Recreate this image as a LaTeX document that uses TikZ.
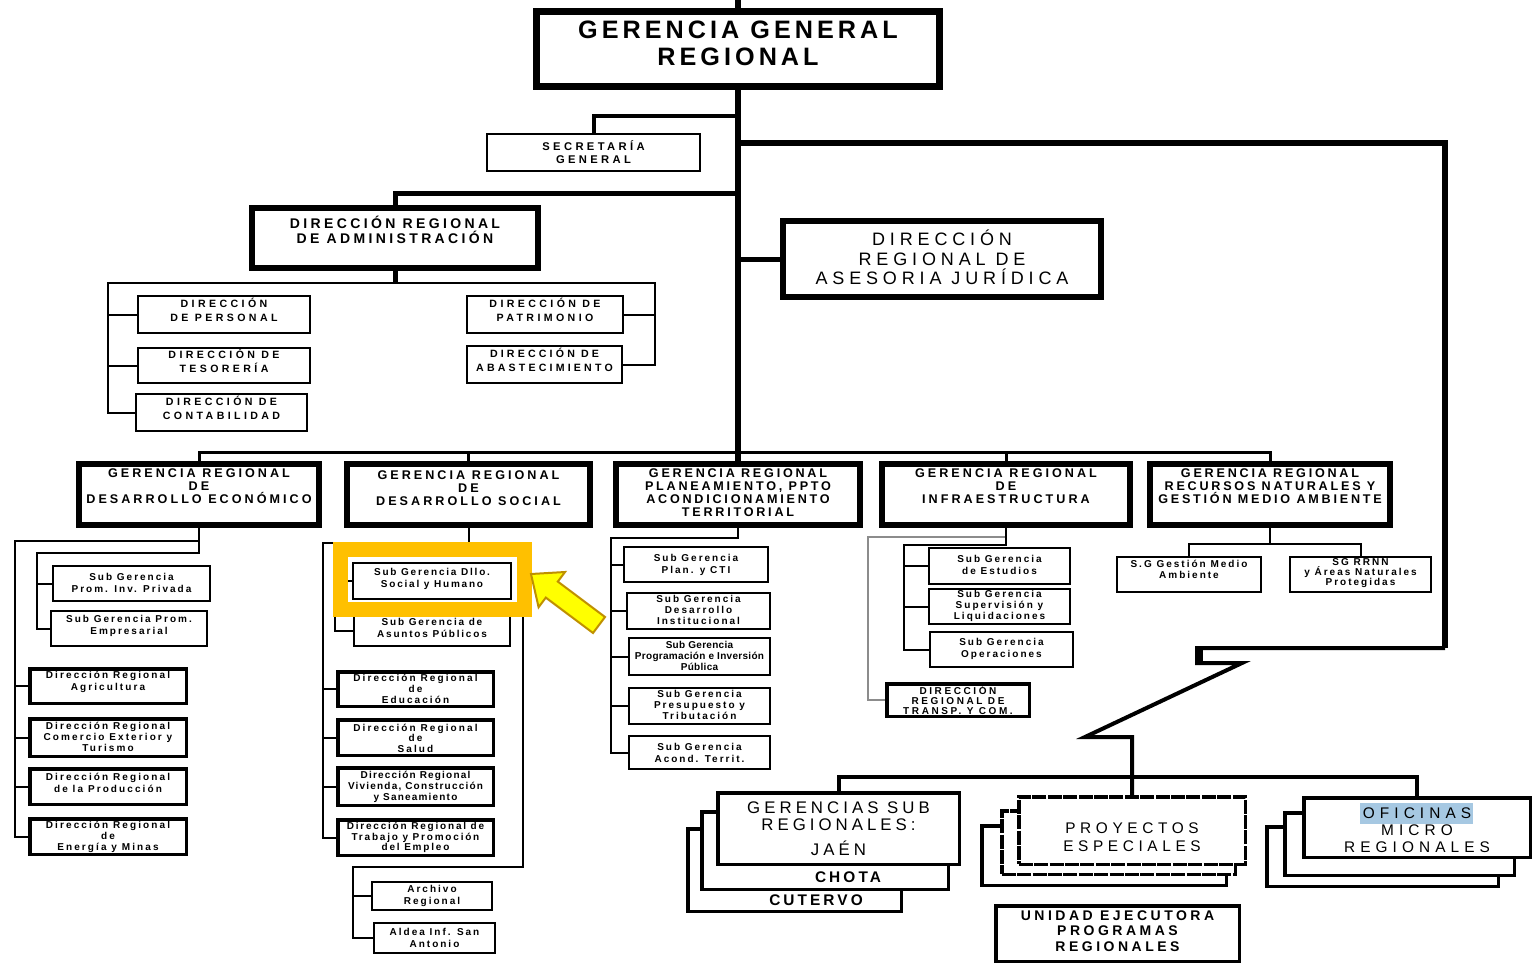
\documentclass[tikz,border=0pt]{standalone}
\usepackage{fontspec}
\setmainfont{Liberation Sans}
\definecolor{hlorange}{HTML}{FFC000}
\definecolor{arrowfill}{HTML}{FFFF00}
\definecolor{arrowline}{HTML}{BF9000}
\definecolor{hlblue}{HTML}{A6C8E2}
\newcommand\FS[3]{\fontsize{#1}{#2}\selectfont\addfontfeatures{LetterSpace=#3}}
\def\bxlw{0pt}
\newcommand\mybox[9]{%
  \pgfmathsetmacro\bxcx{(#3+#5)/2}%
  \pgfmathsetmacro\bxcy{(#4+#6)/2}%
  \node[#1, minimum width={(#5-#3)*0.5pt-\bxlw}, minimum height={(#6-#4)*0.5pt-\bxlw}] (#2) at (\bxcx,\bxcy) {};%
  \node[font={#8}, align=center, inner sep=0pt] (#2-t) at (\bxcx,#7) {#9};%
}
\tikzset{
  bxlw/.code={\def\bxlw{#1}},
  gb/.style={draw, line width=3.5pt, fill=white, inner sep=0pt, bxlw=3.5pt},
  tb/.style={draw, line width=3pt, fill=white, inner sep=0pt, bxlw=3pt},
  mb/.style={draw, line width=1.75pt, fill=white, inner sep=0pt, bxlw=1.75pt},
  nb/.style={draw, line width=1pt, fill=white, inner sep=0pt, bxlw=1pt},
  db/.style={mb, dash pattern=on 7pt off 0.7pt},
  ln1/.style={line width=1pt},
  ln15/.style={line width=1.5pt},
  ln2/.style={line width=2pt},
  ln25/.style={line width=2.5pt},
  ln3/.style={line width=3pt},
}
\begin{document}
\begin{tikzpicture}[x=0.5pt,y=-0.5pt]
\fill[white] (0,0) rectangle (1532,963);
\useasboundingbox (0,0) rectangle (1532,963);

% ---------- top level ----------
\mybox{gb}{ggr}{533}{8}{943}{90}{43.5}{\bfseries\FS{12.6}{13.5}{16}}{GERENCIA GENERAL\\REGIONAL}
\mybox{nb}{sec}{486}{133}{701}{172}{152.5}{\bfseries\FS{5.6}{6.5}{30}}{SECRETARÍA\\GENERAL}
\mybox{tb}{adm}{249}{205}{541}{271}{229.5}{\bfseries\FS{7}{7.5}{24}}{DIRECCIÓN REGIONAL\\DE ADMINISTRACIÓN}
\mybox{tb}{ase}{780}{218}{1104}{300}{257.5}{\FS{9}{9.75}{27}}{DIRECCIÓN\\REGIONAL DE\\ASESORIA JURÍDICA}

% ---------- administration ----------
\mybox{nb}{per}{137}{295}{311}{334}{310}{\bfseries\FS{5.3}{7}{32}}{DIRECCIÓN\\DE PERSONAL}
\mybox{nb}{tes}{137}{347}{311}{384}{361}{\bfseries\FS{5.3}{7}{32}}{DIRECCIÓN DE\\TESORERÍA}
\mybox{nb}{con}{135}{393}{308}{432}{408}{\bfseries\FS{5.3}{7}{32}}{DIRECCIÓN DE\\CONTABILIDAD}
\mybox{nb}{pat}{466}{295}{624}{334}{310}{\bfseries\FS{5.3}{7}{32}}{DIRECCIÓN DE\\PATRIMONIO}
\mybox{nb}{aba}{466}{345}{623}{384}{360}{\bfseries\FS{5.3}{7}{30}}{DIRECCIÓN DE\\ABASTECIMIENTO}

% ---------- gerencias ----------
\mybox{tb}{gecon}{76}{461}{322}{528}{486}{\bfseries\FS{6.3}{6.5}{24}}{GERENCIA REGIONAL\\DE\\DESARROLLO ECONÓMICO}
\mybox{tb}{gsoc}{344}{461}{593}{528}{488}{\bfseries\FS{6.3}{6.5}{24}}{GERENCIA REGIONAL\\DE\\DESARROLLO SOCIAL}
\mybox{tb}{gplan}{613}{461}{863}{528}{492.5}{\bfseries\FS{6.3}{6.5}{22}}{GERENCIA REGIONAL\\PLANEAMIENTO, PPTO\\ACONDICIONAMIENTO\\TERRITORIAL}
\mybox{tb}{ginf}{879}{461}{1133}{528}{486}{\bfseries\FS{6.3}{6.5}{24}}{GERENCIA REGIONAL\\DE\\INFRAESTRUCTURA}
\mybox{tb}{grrnn}{1147}{461}{1393}{528}{486}{\bfseries\FS{6.3}{6.5}{22}}{GERENCIA REGIONAL\\RECURSOS NATURALES Y\\GESTIÓN MEDIO AMBIENTE}

% ---------- economic ----------
\mybox{nb}{sg1}{52}{565}{211}{602}{583}{\bfseries\FS{5}{5.6}{20}}{Sub Gerencia\\Prom. Inv. Privada}
\mybox{nb}{sg2}{50}{610}{208}{647}{626}{\bfseries\FS{5}{5.6}{20}}{Sub Gerencia Prom.\\Empresarial}
\mybox{mb}{dra}{28}{667}{188}{705}{682}{\bfseries\FS{5}{5.8}{21}}{Dirección Regional\\Agricultura}
\mybox{mb}{drc}{28}{717}{188}{758}{737}{\bfseries\FS{5}{5.4}{21}}{Dirección Regional\\Comercio Exterior y\\Turismo}
\mybox{mb}{drp}{28}{767}{188}{806}{783}{\bfseries\FS{5}{5.8}{21}}{Dirección Regional\\de la Producción}
\mybox{mb}{dre}{28}{817}{188}{856}{837}{\bfseries\FS{5}{5.4}{21}}{Dirección Regional\\de\\Energía y Minas}

% ---------- social ----------
\mybox{nb}{ss1}{352}{562}{512}{600}{579}{\bfseries\FS{5}{6.3}{18}}{Sub Gerencia Dllo.\\Social y Humano}
\mybox{nb}{ss2}{353}{614}{511}{647}{628}{\bfseries\FS{5}{6}{18}}{Sub Gerencia de\\Asuntos Públicos}
\mybox{mb}{sd1}{336}{670}{495}{708}{689}{\bfseries\FS{5}{5.4}{21}}{Dirección Regional\\de\\Educación}
\mybox{mb}{sd2}{336}{718}{495}{757}{738}{\bfseries\FS{5}{5.3}{21}}{Dirección Regional\\de\\Salud}
\mybox{mb}{sd3}{336}{766}{495}{807}{787}{\bfseries\FS{5}{5.6}{12}}{Dirección Regional\\Vivienda, Construcción\\y Saneamiento}
\mybox{mb}{sd4}{336}{818}{495}{857}{837.5}{\bfseries\FS{5}{5.3}{18}}{Dirección Regional de\\Trabajo y Promoción\\del Empleo}
\mybox{nb}{sa1}{371}{881}{493}{911}{896}{\bfseries\FS{5}{5.6}{20}}{Archivo\\Regional}
\mybox{nb}{sa2}{373}{922}{496}{954}{938}{\bfseries\FS{5}{5.6}{20}}{Aldea Inf. San\\Antonio}

% ---------- planning ----------
\mybox{nb}{pp1}{623}{546}{769}{583}{565}{\bfseries\FS{5}{6}{20}}{Sub Gerencia\\Plan. y CTI}
\mybox{nb}{pp2}{626}{592}{771}{630}{610}{\bfseries\FS{5}{5.5}{20}}{Sub Gerencia\\Desarrollo\\Institucional}
\mybox{nb}{pp3}{628}{637}{771}{676}{656}{\bfseries\FS{5}{5.3}{3}}{Sub Gerencia\\Programación e Inversión\\Pública}
\mybox{nb}{pp4}{628}{687}{771}{725}{705}{\bfseries\FS{5}{5.5}{20}}{Sub Gerencia\\Presupuesto y\\Tributación}
\mybox{nb}{pp5}{628}{735}{771}{770}{753}{\bfseries\FS{5}{6}{20}}{Sub Gerencia\\Acond. Territ.}

% ---------- infrastructure ----------
\mybox{nb}{ie1}{928}{547}{1071}{585}{565}{\bfseries\FS{5}{5.6}{20}}{Sub Gerencia\\de Estudios}
\mybox{nb}{ie2}{928}{588}{1071}{625}{606}{\bfseries\FS{5}{5.5}{20}}{Sub Gerencia\\Supervisión y\\Liquidaciones}
\mybox{nb}{ie3}{929}{631}{1074}{668}{649}{\bfseries\FS{5}{6}{20}}{Sub Gerencia\\Operaciones}
\mybox{mb}{itr}{885}{682}{1031}{718}{700}{\bfseries\FS{5}{5.1}{26}}{DIRECCIÓN\\REGIONAL DE\\TRANSP. Y COM.}

% ---------- natural resources ----------
\mybox{nb}{rr1}{1116}{556}{1262}{593}{569}{\bfseries\FS{5}{5.6}{20}}{S.G Gestión Medio\\Ambiente}
\mybox{nb}{rr2}{1289}{556}{1432}{593}{573}{\bfseries\FS{5}{5.2}{20}}{SG RRNN\\y Áreas Naturales\\Protegidas}

% ---------- bottom stacks ----------
\mybox{mb}{gsr3}{686}{827}{903}{913}{900}{\bfseries\FS{7.7}{8}{20}}{\hspace*{21.5pt}CUTERVO}
\mybox{mb}{gsr2}{700}{810}{950}{891}{877}{\bfseries\FS{7.7}{8}{20}}{\hspace*{23pt}CHOTA}
\mybox{mb}{gsr1}{716}{791}{961}{866}{829}{\FS{8.4}{8.5}{24}}{GERENCIAS SUB\\REGIONALES:\\[4pt]JAÉN}

\mybox{mb}{pe3}{980}{824}{1228}{887}{856}{}{}
\mybox{db}{pe2}{1000}{809}{1237}{876}{843}{}{}
\mybox{db}{pe1}{1017}{795}{1247}{866}{837}{\FS{7.7}{9}{30}}{PROYECTOS\\ESPECIALES}

\mybox{mb}{of3}{1265}{825}{1500}{888}{856}{}{}
\mybox{mb}{of2}{1283}{811}{1516}{877}{844}{}{}
\mybox{mb}{of1}{1302}{796}{1532}{859}{828}{}{}
\fill[hlblue] (1360,803) rectangle (1473,824);
\node[font={\FS{7.7}{8.5}{33}}, align=center, inner sep=0pt] (of1-text) at (1417,830.5) {OFICINAS\\MICRO\\REGIONALES};

\mybox{mb}{uep}{994}{904}{1241}{963}{931}{\bfseries\FS{7}{7.8}{25}}{UNIDAD EJECUTORA\\PROGRAMAS\\REGIONALES}

% ---------- connectors: top ----------
\coordinate (top) at (738,0);
\draw[ln3] (top) -- (ggr.north);
\draw[ln3] (ggr.south) -- (gplan.north);
\coordinate (tr1) at (738,116);
\draw[ln2] (sec.north) |- (tr1);
\coordinate (tr2) at (738,143);
\coordinate (zr) at (1445,648);
\draw[ln3] (tr2) -| (zr);
\draw[ln2] (zr) -- (1197,648) -- (1197,663) -- (1242,663) -- (1085,737) -- (1132,737) -- (pe1.north);
\draw[line width=4pt] (1199,648) -- (1199,662);
\coordinate (tr3) at (738,193);
\draw[ln25] (adm.north) |- (tr3);
\coordinate (tr4) at (738,259);
\draw[ln25] (tr4) -- (ase.west);

% administration
\coordinate (ab) at (395,283);
\coordinate (al) at (108,283);
\coordinate (ar) at (655,283);
\draw[ln25] (adm.south) -- (ab);
\draw[ln1] (per.west) -| (al) -- (ar) |- (pat.east);
\draw[ln1] (tes.west) -| (al);
\draw[ln1] (con.west) -| (al);
\draw[ln1] (aba.east) -| (ar);

% gerencias bus
\coordinate (gbus) at (738,452);
\draw[ln15] (gecon.north) |- (gbus) -| (grrnn.north);
\draw[ln15] (gsoc.north) -- (gsoc.north |- gbus);
\draw[ln15] (ginf.north) -- (ginf.north |- gbus);

% economic
\coordinate (e1) at (199,541);
\coordinate (e0) at (15,541);
\coordinate (e2) at (199,553);
\coordinate (e3) at (37,553);
\draw[ln1] (gecon.south) -- (e2) -- (e3) |- (sg2.west);
\draw[ln1] (sg1.west) -| (e3);
\draw[ln1] (e1) -- (e0) |- (dre.west);
\draw[ln1] (dra.west) -| (e0);
\draw[ln1] (drc.west) -| (e0);
\draw[ln1] (drp.west) -| (e0);

% social
\coordinate (s1) at (468.5,543);
\coordinate (s0) at (323,543);
\coordinate (sR) at (523,543);
\coordinate (s2) at (468.5,551);
\coordinate (s3) at (335,551);
\coordinate (s5) at (523,867);
\coordinate (s6) at (353,867);
\draw[ln1] (gsoc.south) -- (s2) -- (s3) |- (ss2.west);
\draw[ln1] (ss1.west) -| (s3);
\draw[ln1] (sd4.west) -| (s0) -- (sR) -- (s5) -- (s6) |- (sa2.west);
\draw[ln1] (sd1.west) -| (s0);
\draw[ln1] (sd2.west) -| (s0);
\draw[ln1] (sd3.west) -| (s0);
\draw[ln1] (sa1.west) -| (s6);

% planning
\coordinate (p1) at (738,538);
\coordinate (p0) at (611,538);
\draw[ln1] (gplan.south) -- (p1) -- (p0) |- (pp5.west);
\draw[ln1] (pp1.west) -| (p0);
\draw[ln1] (pp2.west) -| (p0);
\draw[ln1] (pp3.west) -| (p0);
\draw[ln1] (pp4.west) -| (p0);

% infrastructure
\coordinate (i1) at (1006,537);
\coordinate (i0) at (868,537);
\coordinate (i2) at (1006,545);
\coordinate (i3) at (904,545);
\draw[ln1, black!45] (i1) -- (i0) |- (itr.west);
\draw[ln1] (ginf.south) -- (i2) -- (i3) |- (ie3.west);
\draw[ln1] (ie1.west) -| (i3);
\draw[ln1] (ie2.west) -| (i3);

% natural resources
\coordinate (r1) at (1270,544);
\draw[ln1] (grrnn.south) -- (r1);
\draw[ln1] (rr1.north) |- (r1) -| (rr2.north);

% bottom bus
\coordinate (b1) at (1132,777);
\draw[ln2] (gsr1.north) |- (b1) -| (of1.north);

% ---------- highlight and arrow ----------
\node[draw=hlorange, line width=7.5pt, minimum width=92pt, minimum height=30pt, inner sep=0pt] (hlf) at (432.5,579.5) {};
\draw[fill=arrowfill, draw=arrowline, line width=1pt, line join=miter]
  (531,574) -- (565,572) -- (557.8,581.6) -- (605,617) -- (593,633) -- (545.8,597.6) -- (538.6,607.2) -- cycle;
\end{tikzpicture}
\end{document}
